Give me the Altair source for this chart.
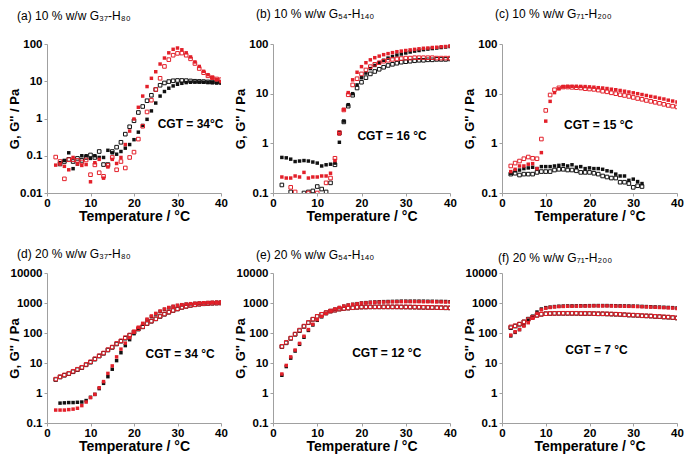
import altair as alt
import pandas as pd

T = list(range(2, 41))

# ---- (a) 10 % w/w G37-H80
a_black_fill = [None, 0.065, 0.075, 0.12, 0.045, 0.06, 0.1, 0.1, 0.085, 0.1, 0.09, 0.09, 0.14, 0.12, 0.11, 0.13, 0.16, 0.2, 0.27, 0.43, 0.65, 0.95, 1.6, 2.6, 4.0, 5.3, 6.5, 7.5, 8.3, 8.8, 9.2, 9.4, 9.5, 9.5, 9.4, 9.3, 9.2, 9.0, 9.0]
a_black_open = [None, 0.06, 0.07, 0.08, 0.07, 0.085, 0.075, 0.09, 0.105, 0.09, 0.13, 0.058, 0.058, 0.13, 0.17, 0.23, 0.38, 0.6, 0.87, 1.45, 2.1, 3.0, 4.2, 6.0, 7.8, 9.0, 9.8, 10.3, 10.5, 10.5, 10.4, 10.2, 10.0, 9.9, 9.8, 9.6, 9.5, 9.5, 9.4]
a_red_fill = [0.056, 0.06, 0.052, 0.042, 0.09, 0.06, 0.055, 0.058, 0.02, 0.065, 0.08, 0.025, 0.05, 0.08, 0.062, 0.09, 0.2, 0.46, 0.97, 2.0, 4.0, 7.2, 12, 18, 29, 42, 58, 72, 78, 70, 58, 45, 33, 25, 18.5, 15, 12.5, 11, 9.8]
a_red_open = [0.092, 0.07, 0.024, 0.078, 0.078, 0.075, 0.068, 0.077, 0.031, 0.057, 0.035, 0.028, 0.055, 0.09, 0.042, 0.07, 0.047, 0.09, 0.125, 0.28, 0.62, 1.5, 3.1, 6.0, 12, 25, 38, 50, 56, 57, 50, 40, 30, 22, 17, 14, 12.5, 11.5, 11]

# ---- (b) 10 % w/w G54-H140
b_black_fill = [0.52, 0.51, 0.48, 0.43, 0.44, 0.45, 0.44, 0.42, 0.40, 0.35, 0.37, 0.38, 0.40, 1.05, 2.8, 6.0, 10, 15, 21, 26, 32, 37, 42, 47, 52, 56, 60, 63, 66, 69, 72, 74, 77, 79, 81, 83, 85, 87, 89]
b_black_open = [0.145, None, 0.105, None, None, 0.1, 0.105, 0.11, 0.135, 0.12, 0.105, 0.16, 0.37, 1.6, 2.7, 5.6, 9.3, 13, 17, 21, 25, 28, 31, 34, 37, 39, 41, 43, 44, 45, 46, 47, 47, 48, 48, 49, 49, 49, 50]
b_red_fill = [0.21, 0.2, 0.2, 0.22, 0.21, 0.26, 0.2, 0.21, 0.21, 0.22, 0.22, 0.25, 0.45, 1.55, 4.8, 10.5, 19, 27, 35, 42, 48, 53, 57, 61, 64, 67, 70, 72, 74, 76, 78, 80, 82, 83, 85, 86, 88, 89, 91]
b_red_open = [None, None, 0.13, 0.105, None, None, 0.1, None, 0.1, None, 0.16, 0.2, 0.5, 1.65, 4.7, 9.5, 15, 20, 25, 30, 35, 39, 42, 45, 47, 49, 50, 51, 52, 52, 53, 53, 53, 53, 53, 52, 52, 52, 52]

# ---- (c) 10 % w/w G71-H200
c_black_fill = [0.25, 0.28, 0.29, 0.31, 0.32, 0.33, 0.31, 0.34, 0.34, 0.34, 0.35, 0.36, 0.37, 0.35, 0.37, 0.33, 0.34, 0.31, 0.32, 0.31, 0.31, 0.3, 0.28, 0.27, 0.24, 0.22, 0.22, 0.18, 0.19, 0.17, 0.155, None, None, None, None, None, None, None, None]
c_black_open = [0.24, 0.25, 0.23, 0.24, 0.24, 0.24, 0.26, 0.27, 0.27, 0.27, 0.29, 0.3, 0.3, 0.29, 0.29, 0.28, 0.26, 0.26, 0.26, 0.25, 0.24, 0.22, 0.21, 0.2, 0.2, 0.165, 0.165, 0.155, 0.13, 0.14, 0.135, None, None, None, None, None, None, None, None]
c_red_fill = [0.27, 0.3, 0.35, 0.35, 0.38, 0.39, 0.31, 0.65, 2.8, 7.0, 10.5, 12.5, 13.8, 14, 14.1, 14.1, 14, 13.9, 13.7, 13.5, 13.2, 13, 12.7, 12.3, 12, 11.6, 11.2, 10.8, 10.4, 10, 9.6, 9.2, 8.8, 8.5, 8.1, 7.8, 7.4, 7.1, 6.8]
c_red_open = [0.35, 0.4, 0.44, 0.49, 0.53, 0.5, 0.49, 1.22, 4.6, 9.4, 12, 13.1, 13.6, 13.6, 13.4, 13.2, 13, 12.6, 12.4, 12.2, 11.8, 11.2, 10.9, 10.4, 10, 9.5, 9.2, 8.8, 8.4, 8.0, 7.7, 7.3, 7.0, 6.7, 6.4, 6.1, 5.8, 5.6, 5.4]

# ---- (d) 20 % w/w G37-H80
d_black_fill = [None, 0.46, 0.47, 0.48, 0.48, 0.49, 0.5, 0.56, 0.72, 0.9, 1.4, 2.1, 3.5, 6.2, 12, 22, 38, 60, 95, 140, 195, 270, 350, 430, 520, 610, 690, 760, 820, 870, 910, 940, 970, 990, 1010, 1030, 1040, 1050, 1070]
d_black_open = [2.8, 3.4, 3.9, 4.4, 5.1, 6.0, 7.0, 8.7, 10.6, 13.4, 17, 21, 27, 33, 43, 53, 67, 83, 106, 135, 160, 205, 245, 295, 355, 420, 490, 560, 630, 710, 770, 830, 870, 910, 940, 960, 980, 990, 1000]
d_red_fill = [0.27, 0.27, 0.27, 0.28, 0.29, 0.31, 0.38, 0.5, 0.7, 0.9, 1.5, 2.4, 4.5, 8, 16, 29, 46, 70, 110, 156, 210, 290, 370, 450, 540, 630, 710, 780, 840, 880, 920, 950, 980, 1000, 1020, 1040, 1050, 1060, 1080]
d_red_open = [2.9, 3.5, 4.0, 4.5, 5.3, 6.2, 7.2, 9, 11, 13.9, 17.5, 21.5, 28, 34, 45, 55, 70, 86, 110, 140, 165, 210, 250, 300, 365, 430, 500, 570, 640, 720, 780, 840, 880, 920, 950, 970, 990, 1000, 1010]

# ---- (e) 20 % w/w G54-H140
e_black_fill = [3.9, 7.6, 14.5, 25, 42, 72, 122, 185, 265, 345, 440, 530, 620, 700, 780, 850, 900, 950, 1000, 1030, 1060, 1080, 1100, 1110, 1120, 1130, 1140, 1150, 1150, 1150, 1150, 1150, 1150, 1140, 1140, 1130, 1130, 1120, 1110]
e_black_open = [35, 47, 66, 90, 120, 165, 220, 285, 355, 415, 475, 535, 575, 625, 655, 675, 695, 715, 730, 735, 740, 740, 740, 740, 740, 740, 740, 735, 735, 730, 725, 720, 715, 710, 705, 700, 695, 690, 685]
e_red_fill = [4.3, 8.3, 16, 27, 45, 78, 130, 195, 280, 360, 450, 540, 630, 710, 790, 850, 900, 940, 990, 1010, 1040, 1060, 1070, 1080, 1090, 1100, 1100, 1110, 1110, 1110, 1110, 1110, 1100, 1100, 1100, 1090, 1090, 1080, 1070]
e_red_open = [36, 49, 68, 93, 125, 170, 225, 290, 360, 420, 480, 540, 580, 630, 660, 680, 700, 720, 735, 740, 745, 745, 745, 745, 745, 745, 745, 740, 740, 735, 730, 725, 720, 715, 710, 705, 700, 695, 690]

# ---- (f) 20 % w/w G71-H200
f_black_fill = [80, 105, 130, 180, 270, 360, 500, 630, 700, 730, 760, 780, 790, 800, 800, 805, 810, 810, 815, 820, 820, 820, 820, 815, 810, 805, 800, 795, 790, 780, 770, 760, 750, 740, 730, 720, 710, 700, 680]
f_black_open = [150, 170, 195, 235, 290, 340, 390, 420, 440, 445, 450, 450, 450, 450, 450, 450, 445, 445, 445, 440, 435, 435, 430, 425, 420, 415, 405, 395, 390, 385, 375, 370, 365, 355, 350, 340, 335, 325, 315]
f_red_fill = [85, 110, 130, 170, 220, 310, 450, 590, 670, 710, 740, 760, 770, 780, 780, 785, 790, 790, 795, 800, 800, 800, 800, 795, 790, 785, 780, 775, 770, 760, 750, 740, 730, 720, 710, 700, 690, 680, 660]
f_red_open = [160, 175, 200, 235, 280, 330, 385, 420, 440, 450, 450, 455, 455, 455, 455, 455, 450, 450, 450, 445, 440, 440, 435, 430, 425, 420, 410, 400, 395, 390, 380, 375, 370, 360, 355, 345, 340, 330, 320]

X_TICKS = [0, 10, 20, 30, 40]
Y_TICKS_A = [0.01, 0.1, 1, 10, 100]
Y_TICKS_BC = [0.1, 1, 10, 100]
Y_TICKS_DEF = [0.1, 1, 10, 100, 1000, 10000]

TITLES = [
    "(a) 10 %  w/w G\u2083\u2087-H\u2088\u2080",
    "(b) 10 %  w/w G\u2085\u2084-H\u2081\u2084\u2080",
    "(c) 10 %  w/w G\u2087\u2081-H\u2082\u2080\u2080",
    "(d) 20 %  w/w G\u2083\u2087-H\u2088\u2080",
    "(e) 20 %  w/w G\u2085\u2084-H\u2081\u2084\u2080",
    "(f) 20 %  w/w G\u2087\u2081-H\u2082\u2080\u2080",
]
CGT_LABELS = ["CGT = 34\u00b0C", "CGT = 16 \u00b0C", "CGT = 15 \u00b0C",
              "CGT = 34 \u00b0C", "CGT = 12 \u00b0C", "CGT = 7 \u00b0C"]
CGT_X = [33.0, 26.9, 22.1, 30.6, 25.7, 21.6]
CGT_Y = [0.71, 1.41, 2.3, 20, 22, 27]

FONT = "Liberation Sans"
RED = "#e3202a"
BLACK = "#111111"


def panel(i, series, yticks, w, h, tdx, tdy):
    rows = []
    for key, vals in series:
        for t, v in zip(T, vals):
            if v is not None:
                rows.append({"T": t, "G": v, "s": key})
    df = pd.DataFrame(rows)
    x = alt.X("T:Q", scale=alt.Scale(domain=[0, 40], nice=False, zero=False),
              axis=alt.Axis(values=X_TICKS, title="Temperature / \u00b0C", labelFlush=False))
    y = alt.Y("G:Q", scale=alt.Scale(type="log", domain=[yticks[0], yticks[-1]], nice=False),
              axis=alt.Axis(values=yticks, format="~g", title="G, G'' / Pa", titleX=-26))
    base = alt.Chart(df)

    def sq(key, color, filled, size):
        return base.transform_filter(alt.datum.s == key).mark_square(
            filled=filled, color=color, size=size, strokeWidth=1, opacity=1, clip=True
        ).encode(x=x, y=y)

    cgt = alt.Chart(pd.DataFrame({"T": [CGT_X[i]], "G": [CGT_Y[i]], "label": [CGT_LABELS[i]]})).mark_text(
        font=FONT, fontSize=12, fontWeight="bold", color="black"
    ).encode(x=x, y=y, text="label:N")

    head = alt.Chart(pd.DataFrame({"label": [TITLES[i]]})).mark_text(
        font=FONT, fontSize=12, color="black", align="left", baseline="middle"
    ).encode(x=alt.value(tdx), y=alt.value(tdy), text="label:N")

    return alt.layer(
        sq("bf", BLACK, True, 12),
        sq("bo", BLACK, False, 13),
        sq("rf", RED, True, 12),
        sq("ro", RED, False, 13),
        cgt,
        head,
    ).properties(width=w, height=h)


def S(bf, bo, rf, ro):
    return [("bf", bf), ("bo", bo), ("rf", rf), ("ro", ro)]


WA, WB, WC = 174, 177, 175
H1, H2 = 149, 150
pa = panel(0, S(a_black_fill, a_black_open, a_red_fill, a_red_open), Y_TICKS_A, WA, H1, -30, -28)
pb = panel(1, S(b_black_fill, b_black_open, b_red_fill, b_red_open), Y_TICKS_BC, WB, H1, -17, -30)
pc = panel(2, S(c_black_fill, c_black_open, c_red_fill, c_red_open), Y_TICKS_BC, WC, H1, -7, -30)
pd_ = panel(3, S(d_black_fill, d_black_open, d_red_fill, d_red_open), Y_TICKS_DEF, WA, H2, -30, -19)
pe = panel(4, S(e_black_fill, e_black_open, e_red_fill, e_red_open), Y_TICKS_DEF, WB, H2, -17, -18)
pf = panel(5, S(f_black_fill, f_black_open, f_red_fill, f_red_open), Y_TICKS_DEF, WC, H2, -4, -15)

chart = alt.concat(
    pa, pb, pc, pd_, pe, pf, columns=3, spacing={"row": 80, "column": 52}, bounds="flush"
).properties(padding=0).configure(padding=0).configure_view(stroke=None).configure_axis(
    grid=False, domainColor="#a0a0a0", tickColor="#a0a0a0", tickSize=3,
    labelFont=FONT, labelFontSize=11.5, labelFontWeight="bold", labelColor="black", labelPadding=2,
    titleFont=FONT, titleFontSize=13, titleFontWeight="bold", titleColor="black",
).configure_axisX(titleFontSize=14, labelPadding=1, titlePadding=1)

chart.save("out.html", embed_options={"renderer": "svg", "actions": False})
